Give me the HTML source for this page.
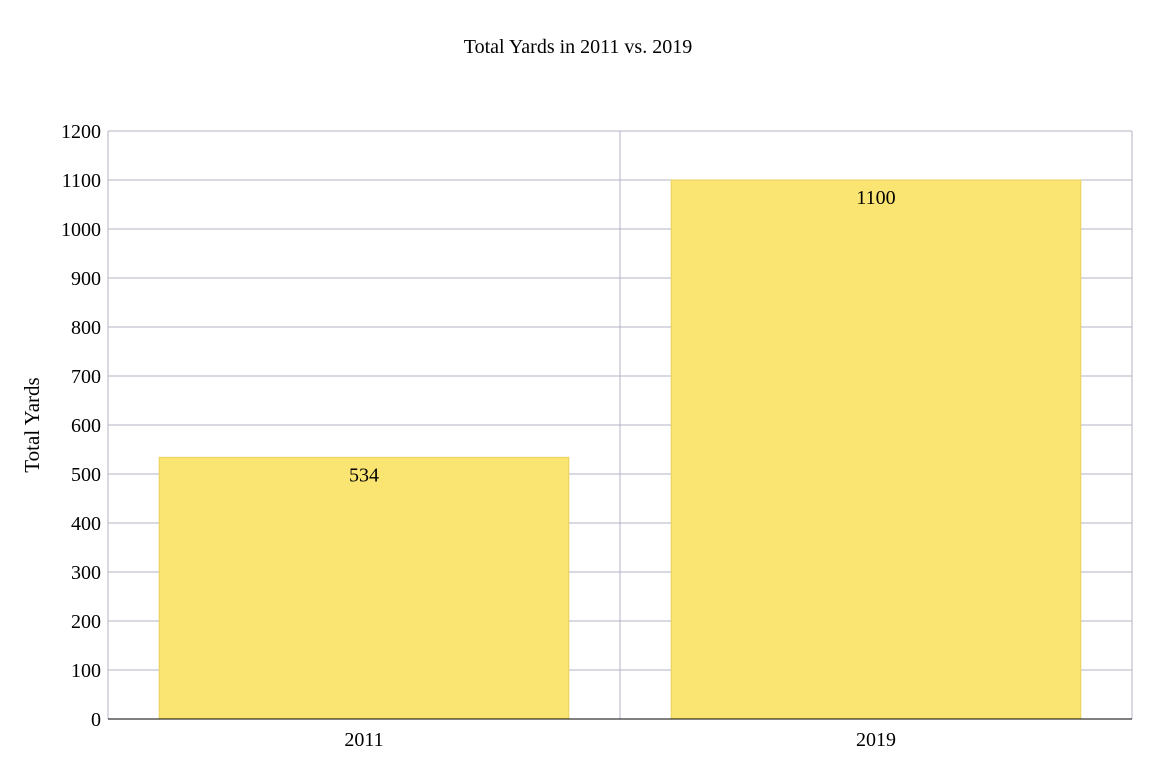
<!DOCTYPE html>
<html><head><meta charset="utf-8"><style>
body{margin:0;background:#fff;}
svg text{font-family:"Liberation Serif",serif;fill:#000;}
</style></head><body>
<svg width="1168" height="774" xmlns="http://www.w3.org/2000/svg">
<text x="578" y="53" text-anchor="middle" font-size="20">Total Yards in 2011 vs. 2019</text>
<text transform="translate(39,425) rotate(-90)" text-anchor="middle" font-size="21">Total Yards</text>
<g id="grid"></g><g id="bars"></g><g id="labels"></g>
</svg>
<script>
const categories=["2011","2019"];
const values=[534,1100];
const yTicks=[0,100,200,300,400,500,600,700,800,900,1000,1100,1200];
const NS="http://www.w3.org/2000/svg";
const L=108,R=1132,T=131,B=719,yMax=1200;
const y=v=>B-(v/yMax)*(B-T);
const bw=(R-L)/categories.length;
function mk(tag,attrs,parent){const e=document.createElementNS(NS,tag);for(const k in attrs)e.setAttribute(k,attrs[k]);parent.appendChild(e);return e;}
const grid=document.getElementById('grid'),bars=document.getElementById('bars'),labels=document.getElementById('labels');
yTicks.forEach(t=>{
  const ln=mk('line',{x1:L,x2:R,y1:y(t),y2:y(t),stroke:t===0?'#000':'#b3b3c6','stroke-width':1},grid);
  
  
  const tx=mk('text',{x:L-7,y:y(t)+7,'text-anchor':'end','font-size':20},labels);
  tx.textContent=t;
  
  
});
mk('line',{x1:L,x2:L,y1:T,y2:B,stroke:'#b3b3c6'},grid);
mk('line',{x1:R,x2:R,y1:T,y2:B,stroke:'#b3b3c6'},grid);
for(let i=1;i<categories.length;i++){mk('line',{x1:L+bw*i,x2:L+bw*i,y1:T,y2:B,stroke:'#b3b3c6'},grid);}
categories.forEach((c,i)=>{
  const x0=L+bw*i+bw*0.1,w=bw*0.8;
  const r=mk('rect',{x:x0,y:y(values[i]),width:w,height:B-y(values[i]),fill:'#fae572',stroke:'#e8d060','stroke-width':1},bars);
  
  
  const v=mk('text',{x:x0+w/2,y:y(values[i])+24,'text-anchor':'middle','font-size':20},labels);
  v.textContent=values[i];
  
  
  const xl=mk('text',{x:L+bw*i+bw/2,y:746,'text-anchor':'middle','font-size':20},labels);
  xl.textContent=c;
  
  
});
mk('line',{x1:L,x2:R,y1:B,y2:B,stroke:'#000'},labels);
</script>
</body></html>
